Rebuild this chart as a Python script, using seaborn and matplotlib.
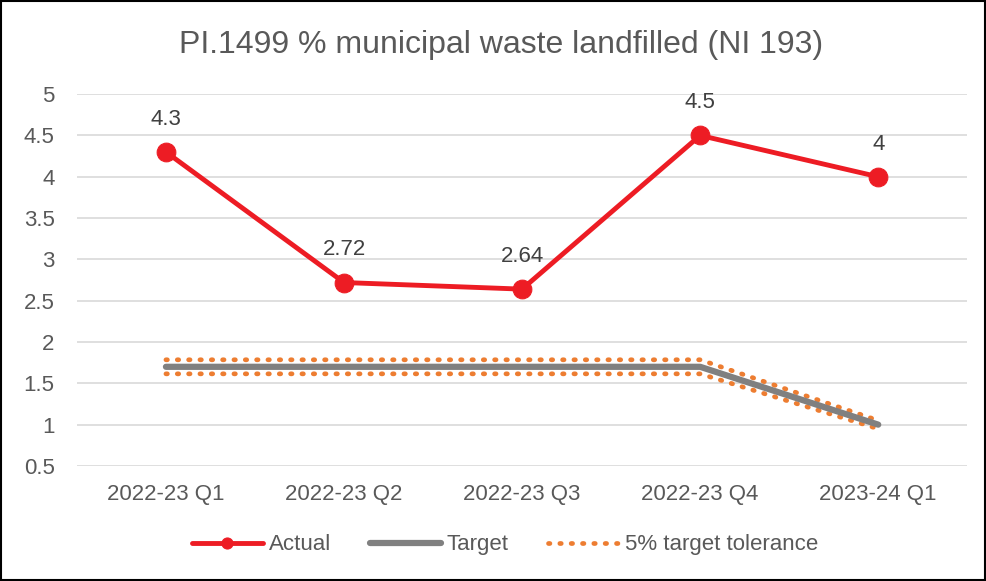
import matplotlib
matplotlib.use("Agg")
import matplotlib.pyplot as plt
import seaborn as sns
import pandas as pd

categories = ["2022-23 Q1", "2022-23 Q2", "2022-23 Q3", "2022-23 Q4", "2023-24 Q1"]
actual = [4.3, 2.72, 2.64, 4.5, 4.0]
actual_labels = ["4.3", "2.72", "2.64", "4.5", "4"]
target = [1.7, 1.7, 1.7, 1.7, 1.0]
tol_upper = [1.785, 1.785, 1.785, 1.785, 1.05]
tol_lower = [1.615, 1.615, 1.615, 1.615, 0.95]
yticks = [0.5, 1, 1.5, 2, 2.5, 3, 3.5, 4, 4.5, 5]

sns.set_theme(style="white")
plt.rcParams['font.family'] = ['Liberation Sans', 'DejaVu Sans']

TXT = "#595959"
RED = "#ED1C24"
GRAY = "#808080"
ORANGE = "#ED7D31"

df = pd.DataFrame({"cat": categories, "actual": actual, "target": target,
                   "up": tol_upper, "lo": tol_lower})

fig = plt.figure(figsize=(9.86, 5.81), dpi=100)
ax = fig.add_axes([0.078, 0.198, 0.903, 0.640])

sns.lineplot(data=df, x="cat", y="up", ax=ax, color=ORANGE, lw=3.4,
             linestyle=(0, (0.3, 2.1)), dash_capstyle="round", sort=False,
             label="5% target tolerance", zorder=2)
sns.lineplot(data=df, x="cat", y="lo", ax=ax, color=ORANGE, lw=3.4,
             linestyle=(0, (0.3, 2.1)), dash_capstyle="round", sort=False,
             label="_nolegend_", zorder=2)
sns.lineplot(data=df, x="cat", y="target", ax=ax, color=GRAY, lw=4.5,
             sort=False, label="Target", zorder=3)
sns.lineplot(data=df, x="cat", y="actual", ax=ax, color=RED, lw=3.5,
             marker="o", markersize=13.5, markeredgecolor=RED, sort=False,
             label="Actual", zorder=4)

for i, (v, t) in enumerate(zip(actual, actual_labels)):
    ax.annotate(t, (i, v), xytext=(0, 16), textcoords="offset points",
                ha="center", va="bottom", fontsize=16, color="#404040")

ax.set_xlim(-0.5, 4.5)
ax.set_ylim(0.5, 5)
ax.set_yticks(yticks)
ax.set_yticklabels([f"{t:g}" for t in yticks])
ax.grid(axis="y", color="#D9D9D9", lw=1.2)
ax.set_axisbelow(True)
for s in ax.spines.values():
    s.set_visible(False)
ax.tick_params(axis="both", length=0, labelsize=16, labelcolor=TXT)
ax.tick_params(axis="x", pad=13)
ax.tick_params(axis="y", pad=16)
ax.set_xlabel("")
ax.set_ylabel("")

fig.text(0.508, 0.922, "PI.1499 % municipal waste landfilled (NI 193)",
         ha="center", va="center", fontsize=23, color=TXT)

h, l = ax.get_legend_handles_labels()
order = [l.index("Actual"), l.index("Target"), l.index("5% target tolerance")]
leg = ax.legend([h[i] for i in order], [l[i] for i in order], loc="center",
                bbox_to_anchor=(0.512, 0.062), bbox_transform=fig.transFigure,
                ncol=3, frameon=False, fontsize=16, labelcolor=TXT,
                handlelength=3.2, handletextpad=0.27, columnspacing=1.75)
for lh in leg.legend_handles:
    if lh.get_marker() not in (None, "None", ""):
        lh.set_markersize(8)

border = plt.Rectangle((0.0015, 0.0025), 0.997, 0.995, transform=fig.transFigure,
                       fill=False, edgecolor="black", lw=1.5)
fig.patches.append(border)

fig.savefig("out.png", dpi=100)
